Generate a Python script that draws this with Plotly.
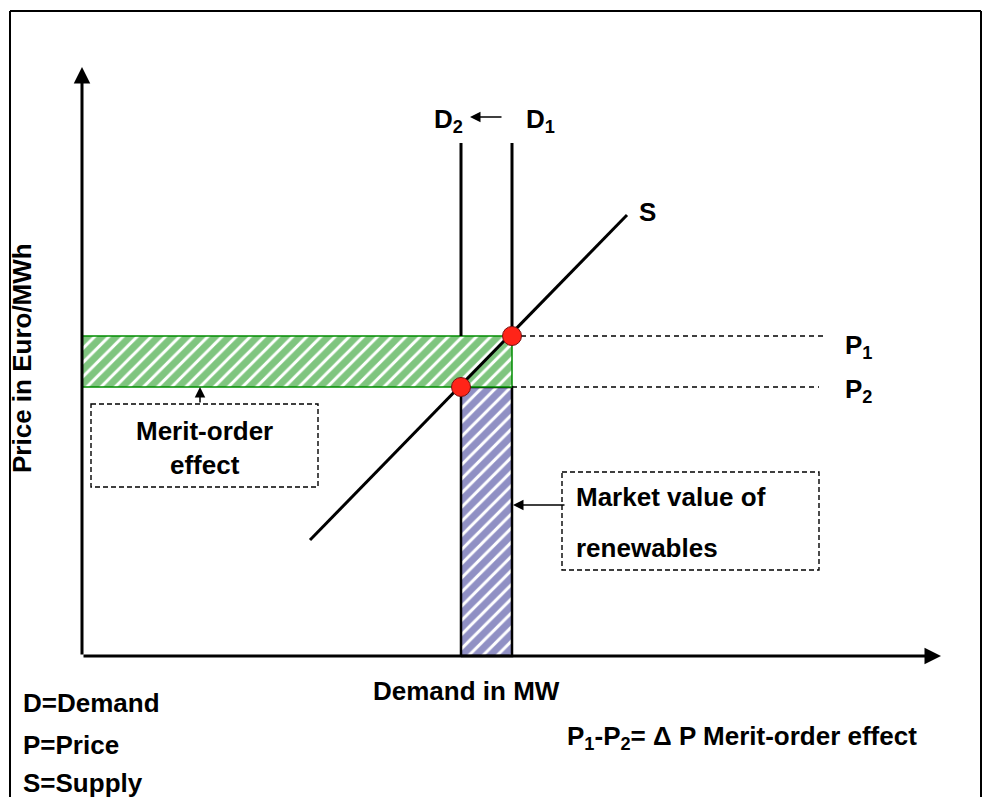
import plotly.graph_objects as go

W, H = 984, 805

# ---- schematic values (diagram units) ----
D1 = 43.0            # original demand
D2 = 37.9            # demand after renewables
P1 = 32.0            # price at D1
P2 = 26.9            # price at D2
demand_top = 51.3    # top of demand lines
supply_x = [22.8, 54.5]
supply_y = [11.6, 44.1]
price_line_end = [74.1, 73.7]
x_axis_end = 85.9
y_axis_end = 58.9

# axis mapping: origin of diagram at pixel (82, 656), 10 px per unit
ox, oy, k = 82, 656, 10.0
xr = [(0 - ox) / k, (W - ox) / k]
yr = [(oy - H) / k, (oy - 0) / k]

def px(x):   # pixel x -> paper
    return x / W

def py(y):   # pixel y -> paper
    return 1 - y / H

FONT = "Arial, Liberation Sans, sans-serif"
FS = 26
BLACK = "#000000"
GREEN = "#008c00"
BLUE = "#22228a"

fig = go.Figure()

# blue hatched rectangle: market value of renewables
fig.add_trace(go.Scatter(
    x=[D2, D1, D1, D2, D2], y=[0, 0, P2, P2, 0], mode="lines",
    fill="toself", fillcolor="white",
    fillpattern=dict(shape="/", fgcolor=BLUE, bgcolor="white", size=10, solidity=0.7),
    line=dict(color=BLACK, width=2.5), hoverinfo="skip", showlegend=False))

# green hatched rectangle: merit-order effect
fig.add_trace(go.Scatter(
    x=[0, D1, D1, 0, 0], y=[P2, P2, P1, P1, P2], mode="lines",
    fill="toself", fillcolor="white",
    fillpattern=dict(shape="/", fgcolor=GREEN, bgcolor="white", size=10, solidity=0.7),
    line=dict(color=GREEN, width=1.5), hoverinfo="skip", showlegend=False))

# demand lines
for d in (D2, D1):
    fig.add_trace(go.Scatter(x=[d, d], y=[P1, demand_top], mode="lines",
                             line=dict(color=BLACK, width=3), hoverinfo="skip", showlegend=False))

# supply line
fig.add_trace(go.Scatter(x=supply_x, y=supply_y, mode="lines",
                         line=dict(color=BLACK, width=3), hoverinfo="skip", showlegend=False))

# dashed price lines
fig.add_trace(go.Scatter(x=[D1, price_line_end[0]], y=[P1, P1], mode="lines",
                         line=dict(color=BLACK, width=1.4, dash="5px,4px"), hoverinfo="skip", showlegend=False))
fig.add_trace(go.Scatter(x=[D1, price_line_end[1]], y=[P2, P2], mode="lines",
                         line=dict(color=BLACK, width=1.4, dash="5px,4px"), hoverinfo="skip", showlegend=False))

# equilibrium points
fig.add_trace(go.Scatter(x=[D1, D2], y=[P1, P2], mode="markers",
                         marker=dict(size=19, color="#ff2418", line=dict(color="#7a1010", width=1)),
                         hoverinfo="skip", showlegend=False))

shapes = []
# outer frame (left, top, right)
frame_style = dict(color=BLACK, width=2)
shapes.append(dict(type="line", xref="paper", yref="paper", x0=px(10), x1=px(10), y0=py(11), y1=py(797), line=frame_style))
shapes.append(dict(type="line", xref="paper", yref="paper", x0=px(10), x1=px(981), y0=py(11), y1=py(11), line=frame_style))
shapes.append(dict(type="line", xref="paper", yref="paper", x0=px(981), x1=px(981), y0=py(11), y1=py(797), line=frame_style))
# dashed annotation boxes
box_style = dict(color=BLACK, width=1.4, dash="5px,3px")
shapes.append(dict(type="rect", xref="paper", yref="paper", x0=px(91), x1=px(318), y0=py(404), y1=py(487), line=box_style))
shapes.append(dict(type="rect", xref="paper", yref="paper", x0=px(562), x1=px(819), y0=py(472), y1=py(570), line=box_style))

ann = []
# axes with arrows (tail offsets in pixels)
ann.append(dict(x=x_axis_end, y=0, ax=-x_axis_end * k, ay=0, xref="x", yref="y",
                text="", showarrow=True, arrowhead=2, arrowsize=1.1, arrowwidth=3, arrowcolor=BLACK, standoff=0))
ann.append(dict(x=0, y=y_axis_end, ax=0, ay=y_axis_end * k, xref="x", yref="y",
                text="", showarrow=True, arrowhead=2, arrowsize=1.1, arrowwidth=3, arrowcolor=BLACK, standoff=0))

def arrow(hx, hy, tx, ty):
    ann.append(dict(x=px(hx), y=py(hy), ax=tx - hx, ay=ty - hy, xref="paper", yref="paper",
                    text="", showarrow=True, arrowhead=2, arrowsize=1.4, arrowwidth=1.5,
                    arrowcolor=BLACK, standoff=0))

arrow(470, 117, 503, 117)   # D1 -> D2
arrow(200, 387, 200, 404)   # merit-order box
arrow(513, 505, 566, 505)   # market value box

def label(text, x, y, xanchor="center", yanchor="middle", size=FS, angle=0):
    ann.append(dict(text=text, x=px(x), y=py(y), xref="paper", yref="paper",
                    xanchor=xanchor, yanchor=yanchor, showarrow=False, textangle=angle,
                    font=dict(family=FONT, size=size, color=BLACK)))

label("<b>D<sub>2</sub></b>", 448, 121)
label("<b>D<sub>1</sub></b>", 540, 121)
label("<b>S</b>", 647, 212)
label("<b>P<sub>1</sub></b>", 843, 346, xanchor="left")
label("<b>P<sub>2</sub></b>", 843, 390, xanchor="left")
label("<b>Merit-order<br>effect</b>", 204, 448)
label("<b>Market value of</b>", 574, 497, xanchor="left")
label("<b>renewables</b>", 574, 548, xanchor="left")
label("<b>Demand in MW</b>", 466, 691)
label("<b>Price in Euro/MWh</b>", 22, 358, angle=-90)
label("<b>D=Demand</b>", 21, 703, xanchor="left")
label("<b>P=Price</b>", 21, 745, xanchor="left")
label("<b>S=Supply</b>", 21, 783, xanchor="left")
label("<b>P<sub>1</sub>-P<sub>2</sub>= Δ P Merit-order effect</b>", 565, 737, xanchor="left")

fig.update_layout(
    width=W, height=H,
    margin=dict(l=0, r=0, t=0, b=0),
    paper_bgcolor="white", plot_bgcolor="white",
    xaxis=dict(range=xr, visible=False, fixedrange=True),
    yaxis=dict(range=yr, visible=False, fixedrange=True),
    shapes=shapes, annotations=ann, showlegend=False,
)

fig.write_html("out.html", config={"displayModeBar": False},
               post_script="document.body.style.margin='0';document.body.style.overflow='hidden';")
